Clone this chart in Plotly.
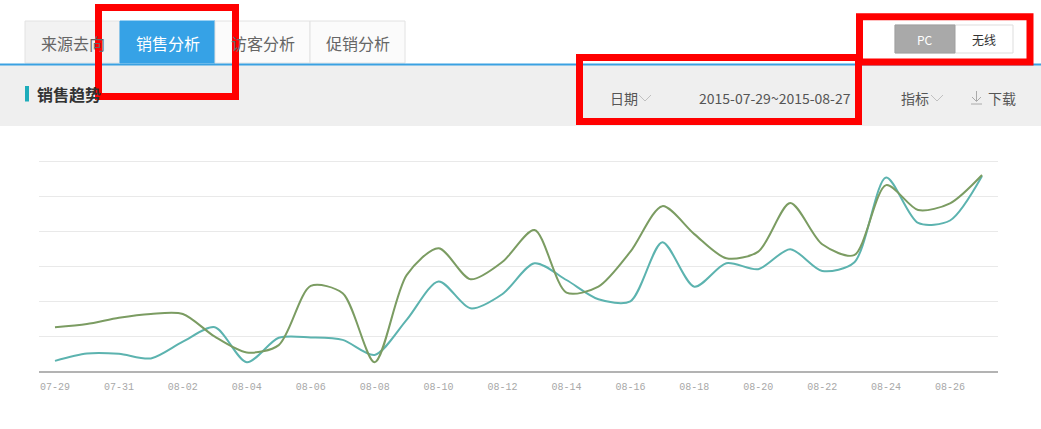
import plotly.graph_objects as go

W, H = 1041, 429

# ---- data ----
dates = ["07-29", "07-30", "07-31", "08-01", "08-02", "08-03", "08-04", "08-05", "08-06", "08-07",
         "08-08", "08-09", "08-10", "08-11", "08-12", "08-13", "08-14", "08-15", "08-16", "08-17",
         "08-18", "08-19", "08-20", "08-21", "08-22", "08-23", "08-24", "08-25", "08-26", "08-27"]
series_teal = [0.29, 0.50, 0.49, 0.36, 0.84, 1.25, 0.25, 0.95, 0.96, 0.89,
               0.46, 1.46, 2.56, 1.79, 2.20, 3.08, 2.60, 2.05, 1.99, 3.68,
               2.41, 3.08, 2.91, 3.48, 2.86, 3.10, 5.53, 4.23, 4.30, 5.57]
series_green = [1.25, 1.34, 1.52, 1.63, 1.63, 0.98, 0.53, 0.74, 2.43, 2.22,
                0.25, 2.74, 3.51, 2.62, 3.12, 4.03, 2.24, 2.41, 3.41, 4.71,
                3.91, 3.22, 3.41, 4.80, 3.62, 3.31, 5.31, 4.60, 4.79, 5.60]
tick_labels = dates[::2]
tabs = ["来源去向", "销售分析", "访客分析", "促销分析"]

FONT = "Noto Sans CJK SC"


def px(x):
    return x / W


def py(y):
    return 1 - y / H


x_idx = list(range(len(dates)))

fig = go.Figure()
fig.add_trace(go.Scatter(x=x_idx, y=series_teal, mode="lines",
                         line=dict(color="#5cb3af", width=2, shape="spline", smoothing=0.8),
                         hoverinfo="skip"))
fig.add_trace(go.Scatter(x=x_idx, y=series_green, mode="lines",
                         line=dict(color="#7b9c62", width=2, shape="spline", smoothing=0.8),
                         hoverinfo="skip"))

shapes = []
annotations = []


def rect(x0, y0, x1, y1, fill=None, line=None, lw=0, layer="below"):
    d = dict(type="rect", xref="paper", yref="paper",
             x0=px(x0), x1=px(x1), y0=py(y1), y1=py(y0), layer=layer)
    d["fillcolor"] = fill if fill else "rgba(0,0,0,0)"
    d["line"] = dict(color=line if line else "rgba(0,0,0,0)", width=lw)
    shapes.append(d)


def path(points, color, width=1, layer="above"):
    s = "M " + " L ".join(f"{px(a)},{py(b)}" for a, b in points)
    shapes.append(dict(type="path", xref="paper", yref="paper", path=s,
                       line=dict(color=color, width=width), layer=layer))


def text(t, x, y, size=14, color="#555", anchor="center", bold=False, family=FONT):
    if bold:
        t = f"<b>{t}</b>"
    annotations.append(dict(text=t, x=px(x), y=py(y), xref="paper", yref="paper",
                            xanchor=anchor, yanchor="middle", showarrow=False,
                            font=dict(family=family, size=size, color=color)))


# gray header bar
rect(0, 65, W, 126, fill="#efefef")
# tabs
tab_x = [25, 120, 215, 310, 405]
tab_fill = ["#f2f2f2", "#36a2e6", "#fbfbfb", "#fbfbfb"]
for i, t in enumerate(tabs):
    rect(tab_x[i], 21, tab_x[i + 1], 63, fill=tab_fill[i], line="#e2e2e2" if i != 1 else "#36a2e6", lw=1)
    text(t, (tab_x[i] + tab_x[i + 1]) / 2, 43, size=16, color="#ffffff" if i == 1 else "#666666")
# blue separator
rect(0, 63.5, W, 65.5, fill="#3aa1e2")

# section title
rect(25, 86, 29, 101.5, fill="#1eadbb")
text("销售趋势", 35, 94, size=16, color="#333333", anchor="left", bold=True)

# controls
text("日期", 608, 98, size=14, color="#555555", anchor="left")
path([(639, 95), (645, 101), (651, 95)], "#c0c0c0", 1)
text("2015-07-29~2015-08-27", 697, 98, size=14, color="#555555", anchor="left")
text("指标", 899, 98, size=14, color="#555555", anchor="left")
path([(931, 95), (937, 101), (943, 95)], "#c0c0c0", 1)
path([(976.5, 91), (976.5, 101)], "#aaaaaa", 1)
path([(972, 97), (976.5, 101.5), (981, 97)], "#aaaaaa", 1)
path([(971, 104), (982, 104)], "#aaaaaa", 1)
text("下载", 986, 98, size=14, color="#555555", anchor="left")

# PC / 无线 toggle
rect(895, 25, 1013, 53, fill="#ffffff", line="#dddddd", lw=1)
rect(895, 25, 955, 53, fill="#a9a9a9", line="#9f9f9f", lw=1)
text("PC", 925, 39.5, size=12, color="#ffffff")
text("无线", 984, 39.5, size=12, color="#333333")

# red highlight boxes
for (x0, y0, x1, y1) in [(98.5, 7.5, 235.5, 96.5), (579.5, 57.5, 858.5, 121.5), (859.5, 16.7, 1030, 62)]:
    rect(x0, y0, x1, y1, line="#ff0000", lw=7, layer="above")

fig.update_layout(
    width=W, height=H, autosize=False,
    margin=dict(l=0, r=0, t=0, b=0, pad=0),
    paper_bgcolor="#ffffff", plot_bgcolor="#ffffff",
    showlegend=False,
    shapes=shapes, annotations=annotations,
    xaxis=dict(domain=[px(39), px(998)], range=[-0.5, len(dates) - 0.5],
               tickvals=x_idx[::2], ticktext=tick_labels, showgrid=False, zeroline=False,
               showline=True, linecolor="#b3b3b3", linewidth=2, ticks="",
               ticklabelstandoff=5,
               tickfont=dict(family="Liberation Mono", size=10, color="#a8a8a8"),
               fixedrange=True),
    yaxis=dict(domain=[py(371), py(158.9)], range=[0, 6.06], tickvals=[1, 2, 3, 4, 5, 6],
               showgrid=True, gridcolor="#e9e9e9", gridwidth=1, zeroline=False,
               showticklabels=False, ticks="", showline=False, fixedrange=True),
)

fig.write_html("out.html", config={"displayModeBar": False})
